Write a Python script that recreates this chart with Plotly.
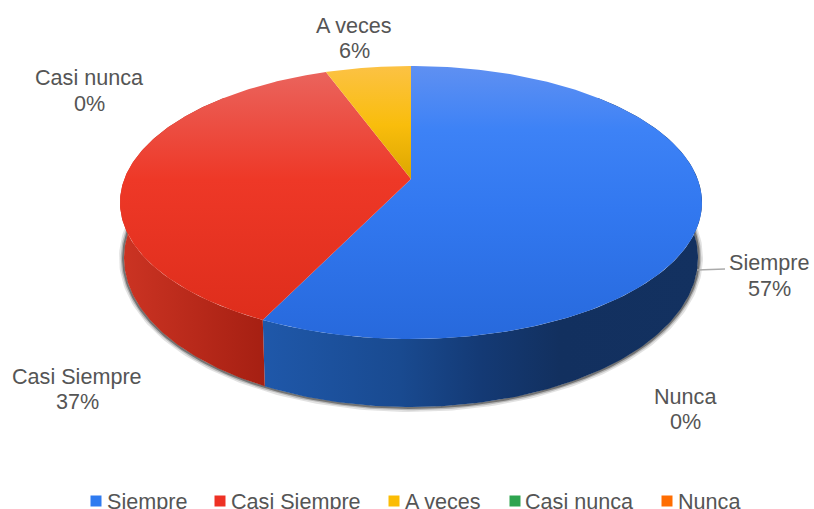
import numpy as np
import plotly.graph_objects as go

categories = ["Siempre", "Casi Siempre", "A veces", "Casi nunca", "Nunca"]
values = [57.2, 37.2, 5.6, 0, 0]
percent_labels = ["57%", "37%", "6%", "0%", "0%"]

# --- styling only ---
legend_colors = ["#2f7bf0", "#ee3124", "#fbbc04", "#2ea44f", "#ff6d01"]
TOP_STOPS = [
    [[66, "#5f90f2"], [130, "#3d82f6"], [210, "#3278f0"], [340, "#2769dc"]],
    [[66, "#ea6660"], [130, "#ec4c40"], [180, "#ee3827"], [340, "#dc2c1a"]],
    [[66, "#fcc244"], [125, "#f9bd0c"], [179, "#dca600"]],
]
SIDE_STOPS = [
    [[262, "#1f58aa"], [400, "#194a90"], [480, "#143a75"], [560, "#12305f"], [702, "#133160"]],
    [[120, "#cc3423"], [266, "#a51f12"]],
]
LABEL_POS = [(769, 262, 288), (77, 376, 401), (354, 25, 50), (89, 77, 103), (685, 396, 421)]
LEGEND_POS = [(96, 105), (220, 229), (394, 403), (515, 523), (667, 676)]
TEXT = "#555555"
FONT = "Liberation Sans"
W, H = 814, 509
CX, TOP_CY, RX, RY = 411, 202.5, 291, 136.5
BOT_CY, BOT_RX, BOT_RY = 258, 287, 149
A = 0.172  # perspective shift of the pie's centre inside the ellipse


def unit(frac):
    """Pie fraction (clockwise from 12 o'clock) to the perspective-projected unit disc."""
    th = 2 * np.pi * np.asarray(frac, dtype=float)
    u0, v0 = np.sin(th), -np.cos(th)
    den = 1 - A * v0
    return u0 * np.sqrt(1 - A * A) / den, (v0 - A) / den


def top(frac):
    u, v = unit(frac)
    return CX + RX * u, TOP_CY + RY * v


def bot(frac):
    u, v = unit(frac)
    return CX + BOT_RX * u, BOT_CY + BOT_RY * v


def scale(stops):
    lo, hi = stops[0][0], stops[-1][0]
    return [[(p - lo) / (hi - lo), c] for p, c in stops]


fig = go.Figure()

# soft shadow round the bottom rim
rim = np.linspace(0.12, 0.88, 300)
for grow, width, alpha in [(2.5, 5, 0.14), (1.5, 3.5, 0.25), (0.8, 2.2, 0.5)]:
    u, v = unit(rim)
    fig.add_trace(go.Scatter(
        x=CX + (BOT_RX + grow) * u, y=BOT_CY + (BOT_RY + grow) * v, mode="lines",
        line=dict(color=f"rgba(50,50,50,{alpha})", width=width),
        hoverinfo="skip", showlegend=False))

total = sum(values)
edges = np.concatenate([[0], np.cumsum(values)]) / total

# walls of the two front slices
side_ranges = [(0.13, edges[1]), (edges[1], 0.87)]
for (f0, f1), stops in zip(side_ranges, SIDE_STOPS):
    f = np.linspace(f0, f1, 160)
    bx, by = bot(f)
    tx, ty = top(f[::-1])
    fig.add_trace(go.Scatter(
        x=np.r_[bx, tx, bx[0]], y=np.r_[by, ty, by[0]], mode="lines",
        line=dict(width=0), fill="toself", fillcolor="rgba(0,0,0,0)",
        fillgradient=dict(type="horizontal", colorscale=scale(stops),
                          start=stops[0][0], stop=stops[-1][0]),
        hoverinfo="skip", showlegend=False))

# top faces
for i, stops in enumerate(TOP_STOPS):
    f = np.linspace(edges[i], edges[i + 1], 220)
    ax, ay = top(f)
    ox, oy = CX, TOP_CY + RY * (-A)
    fig.add_trace(go.Scatter(
        x=np.r_[ox, ax, ox], y=np.r_[oy, ay, oy], mode="lines",
        line=dict(width=0), fill="toself", fillcolor="rgba(0,0,0,0)",
        fillgradient=dict(type="vertical", colorscale=scale(stops),
                          start=stops[0][0], stop=stops[-1][0]),
        name=categories[i], hoverinfo="skip", showlegend=False))

# leader line for the first label
fig.add_trace(go.Scatter(x=[697, 725], y=[270, 269], mode="lines",
                         line=dict(color="#aaaaaa", width=1.6),
                         hoverinfo="skip", showlegend=False))

# legend squares
fig.add_trace(go.Scatter(
    x=[p[0] for p in LEGEND_POS], y=[501] * len(LEGEND_POS), mode="markers",
    marker=dict(symbol="square", size=11, color=legend_colors, line=dict(width=0)),
    hoverinfo="skip", showlegend=False))

annotations = []
for name, pct, (x, y1, y2) in zip(categories, percent_labels, LABEL_POS):
    for txt, y in ((name, y1), (pct, y2)):
        annotations.append(dict(x=x, y=y, text=txt, showarrow=False,
                                xanchor="center", yanchor="middle", align="center",
                                font=dict(family=FONT, size=21.6, color=TEXT)))
for name, (_, x) in zip(categories, LEGEND_POS):
    annotations.append(dict(x=x, y=501, text=name, showarrow=False,
                            xanchor="left", yanchor="middle",
                            font=dict(family=FONT, size=21.6, color=TEXT)))

fig.update_layout(
    width=W, height=H, margin=dict(l=0, r=0, t=0, b=0),
    paper_bgcolor="white", plot_bgcolor="white", showlegend=False,
    xaxis=dict(range=[0, W], visible=False, fixedrange=True),
    yaxis=dict(range=[H, 0], visible=False, fixedrange=True),
    annotations=annotations,
)
fig.write_html("out.html", config={"displayModeBar": False},
               post_script="document.body.style.margin='0';")
